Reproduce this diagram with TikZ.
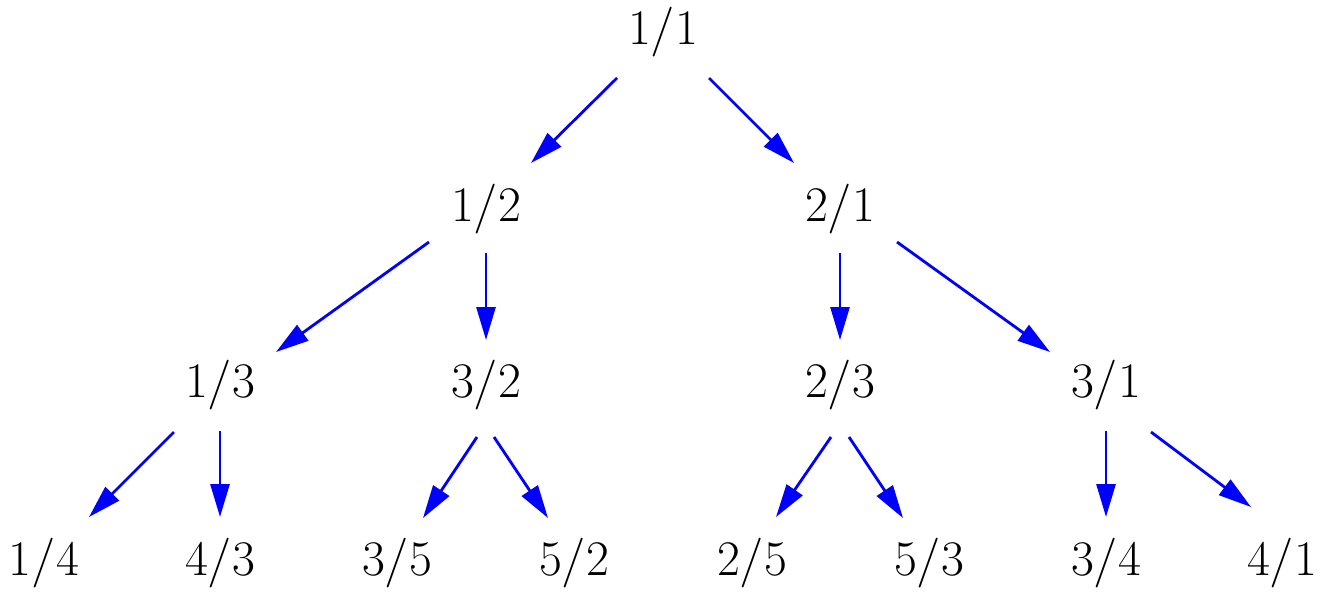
\documentclass[tikz,border=0pt]{standalone}
\usepackage{tikz}
\usetikzlibrary{arrows.meta}

\begin{document}
\begin{tikzpicture}[
    x=0.5pt, y=-0.5pt,
    every node/.style={font=\fontsize{25.6}{31}\selectfont, inner sep=0pt},
    frac/.style={anchor=center},
    arrow/.style={-{Triangle[length=16.5pt, width=9.5pt]}, blue, line width=1.4pt}
]
\useasboundingbox (0,0) rectangle (1326,594);

% Nodes
\node[frac] (n11) at (663,32) {$1/1$};

\node[frac] (n12) at (486,209) {$1/2$};
\node[frac] (n21) at (840,209) {$2/1$};

\node[frac] (n13) at (220,385) {$1/3$};
\node[frac] (n32) at (486,385) {$3/2$};
\node[frac] (n23) at (840,385) {$2/3$};
\node[frac] (n31) at (1106,385) {$3/1$};

\node[frac] (n14) at (44,563) {$1/4$};
\node[frac] (n43) at (220,563) {$4/3$};
\node[frac] (n35) at (397,563) {$3/5$};
\node[frac] (n52) at (574,563) {$5/2$};
\node[frac] (n25) at (752,563) {$2/5$};
\node[frac] (n53) at (929,563) {$5/3$};
\node[frac] (n34) at (1106,563) {$3/4$};
\node[frac] (n41) at (1282,563) {$4/1$};

% Arrows
\draw[arrow] ([shift={(-46,46)}]n11.center) -- ([shift={(45,-46)}]n12.center);
\draw[arrow] ([shift={(46,46)}]n11.center) -- ([shift={(-46,-46)}]n21.center);

\draw[arrow] ([shift={(-57,33)}]n12.center) -- ([shift={(56,-33)}]n13.center);
\draw[arrow] ([shift={(0,44)}]n12.center) -- ([shift={(0,-45)}]n32.center);
\draw[arrow] ([shift={(0,44)}]n21.center) -- ([shift={(0,-45)}]n23.center);
\draw[arrow] ([shift={(57,33)}]n21.center) -- ([shift={(-56,-33)}]n31.center);

\draw[arrow] ([shift={(-46,47)}]n13.center) -- ([shift={(45,-46)}]n14.center);
\draw[arrow] ([shift={(0,46)}]n13.center) -- ([shift={(0,-46)}]n43.center);
\draw[arrow] ([shift={(-9,52)}]n32.center) -- ([shift={(26,-45)}]n35.center);
\draw[arrow] ([shift={(8,52)}]n32.center) -- ([shift={(-26,-45)}]n52.center);
\draw[arrow] ([shift={(-9,52)}]n23.center) -- ([shift={(24,-46)}]n25.center);
\draw[arrow] ([shift={(9,52)}]n23.center) -- ([shift={(-26,-45)}]n53.center);
\draw[arrow] ([shift={(0,46)}]n31.center) -- ([shift={(0,-46)}]n34.center);
\draw[arrow] ([shift={(45,47)}]n31.center) -- ([shift={(-31,-56)}]n41.center);

\end{tikzpicture}
\end{document}
